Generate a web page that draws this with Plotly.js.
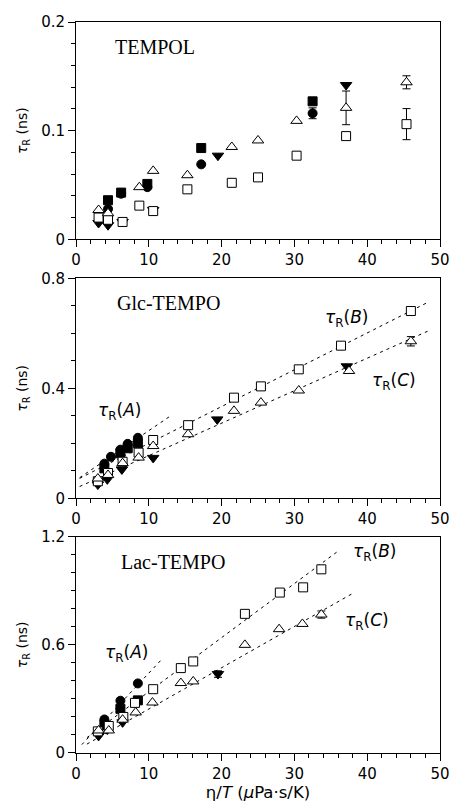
<!DOCTYPE html>
<html>
<head>
<meta charset="utf-8">
<script src="https://cdn.plot.ly/plotly-3.0.1.min.js"></script>
<style>html,body{margin:0;padding:0;background:#fff;}#chart{width:453px;height:804px;}</style>
</head>
<body>
<div id="chart"></div>
<script>
// ---------- Panel 1: TEMPOL ----------
var p1_fsq_x = [4.4, 6.2, 9.8, 17.2, 32.5];
var p1_fsq_y = [0.036, 0.043, 0.051, 0.084, 0.127];
var p1_fci_x = [4.4, 6.2, 9.8, 17.2, 32.5];
var p1_fci_y = [0.028, 0.042, 0.048, 0.069, 0.116];
var p1_fci_err = [NaN, NaN, NaN, NaN, 0.005];
var p1_ftd_x = [3.1, 4.4, 6.4, 10.6, 19.5, 37.1];
var p1_ftd_y = [0.015, 0.013, 0.016, 0.027, 0.077, 0.142];
var p1_osq_x = [3.1, 4.4, 6.4, 8.7, 10.6, 15.3, 21.4, 25.0, 30.3, 37.1, 45.4];
var p1_osq_y = [0.020, 0.018, 0.016, 0.031, 0.026, 0.046, 0.052, 0.057, 0.077, 0.095, 0.106];
var p1_osq_err = [NaN, NaN, NaN, NaN, NaN, NaN, NaN, NaN, NaN, NaN, 0.0143];
var p1_otr_x = [3.1, 4.4, 8.7, 10.6, 15.3, 21.4, 25.0, 30.3, 37.1, 45.4];
var p1_otr_y = [0.027, 0.024, 0.048, 0.063, 0.059, 0.085, 0.091, 0.109, 0.121, 0.1445];
var p1_otr_err = [NaN, NaN, NaN, NaN, NaN, NaN, NaN, NaN, 0.0155, 0.006];

// ---------- Panel 2: Glc-TEMPO ----------
var p2_fsq_x = [3.9, 6.1, 7.1, 8.5];
var p2_fsq_y = [0.109, 0.164, 0.182, 0.200];
var p2_fci_x = [3.9, 4.8, 6.1, 7.1, 8.5];
var p2_fci_y = [0.126, 0.151, 0.177, 0.198, 0.220];
var p2_ftd_x = [3.0, 4.3, 6.3, 10.6, 19.4, 37.2];
var p2_ftd_y = [0.050, 0.069, 0.105, 0.147, 0.287, 0.480];
var p2_osq_x = [3.0, 4.4, 6.4, 8.6, 10.6, 15.4, 21.7, 25.4, 30.6, 36.4, 46.0];
var p2_osq_y = [0.062, 0.092, 0.133, 0.166, 0.212, 0.266, 0.366, 0.407, 0.469, 0.555, 0.681];
var p2_osq_err = [NaN, NaN, NaN, NaN, NaN, NaN, NaN, NaN, NaN, NaN, 0.008];
var p2_otr_x = [3.0, 4.4, 6.4, 8.6, 10.6, 15.4, 21.7, 25.4, 30.6, 37.5, 46.0];
var p2_otr_y = [0.072, 0.085, 0.128, 0.148, 0.190, 0.233, 0.318, 0.348, 0.392, 0.463, 0.571];
var p2_otr_err = [NaN, NaN, NaN, NaN, NaN, NaN, NaN, NaN, NaN, NaN, 0.017];
// fits: [intercept, slope, xStart, xEnd]
var p2_fitA = [0.066, 0.0180, 0.5, 13.0];
var p2_fitB = [0.066, 0.01338, 0.5, 48.2];
var p2_fitC = [0.037, 0.01181, 0.5, 48.4];

// ---------- Panel 3: Lac-TEMPO ----------
var p3_fsq_x = [3.9, 6.1, 8.5];
var p3_fsq_y = [0.157, 0.245, 0.292];
var p3_fci_x = [3.9, 6.1, 8.5];
var p3_fci_y = [0.186, 0.290, 0.386];
var p3_ftd_x = [3.1, 4.3, 6.4, 19.5];
var p3_ftd_y = [0.095, 0.130, 0.170, 0.438];
var p3_ftd_err = [NaN, NaN, NaN, 0.018];
var p3_osq_x = [3.0, 4.5, 6.5, 8.1, 10.6, 14.4, 16.1, 23.2, 28.0, 31.2, 33.7];
var p3_osq_y = [0.120, 0.150, 0.200, 0.278, 0.354, 0.471, 0.508, 0.772, 0.890, 0.919, 1.019];
var p3_osq_err = [NaN, NaN, NaN, NaN, NaN, NaN, NaN, NaN, NaN, NaN, 0.012];
var p3_otr_x = [3.1, 4.5, 6.4, 8.2, 10.5, 14.4, 16.1, 23.2, 27.9, 31.1, 33.7];
var p3_otr_y = [0.125, 0.125, 0.185, 0.225, 0.280, 0.388, 0.397, 0.600, 0.687, 0.716, 0.768];
var p3_otr_err = [NaN, NaN, NaN, NaN, NaN, NaN, NaN, NaN, NaN, NaN, 0.020];
var p3_fitA = [0.012, 0.0431, 0.8, 11.8];
var p3_fitB = [0.040, 0.0300, 1.5, 36.1];
var p3_fitC = [0.015, 0.0229, 1.5, 38.1];

var xTicks = [0, 10, 20, 30, 40, 50];
var panelNames = ['TEMPOL', 'Glc-TEMPO', 'Lac-TEMPO'];

// ---------- build ----------
var traces = [];
function ax(n){ return n === 1 ? '' : String(n); }
function errObj(arr){
  if(!arr) return {visible:false};
  return {type:'data', array:arr, visible:true, color:'#000', thickness:1, width:4};
}
function pts(n, x, y, kind, err){
  var m;
  if(kind === 'fsq') m = {symbol:'square', size:9, color:'#000', line:{color:'#000', width:1}};
  if(kind === 'fci') m = {symbol:'circle', size:9, color:'#000', line:{color:'#000', width:1}};
  if(kind === 'ftd') m = {symbol:'triangle-down', size:10, color:'#000', line:{color:'#000', width:1}};
  if(kind === 'osq') m = {symbol:'square', size:9, color:'#fff', line:{color:'#000', width:1}};
  if(kind === 'otr') m = {symbol:'triangle-up', size:10, color:'#fff', line:{color:'#000', width:1}};
  traces.push({x:x, y:y, type:'scatter', mode:'markers', marker:m, error_y:errObj(err),
    xaxis:'x'+ax(n), yaxis:'y'+ax(n), hoverinfo:'x+y', cliponaxis:false});
}
function fit(n, f){
  var xs = [f[2], f[3]];
  var ys = xs.map(function(v){ return f[0] + f[1]*v; });
  traces.push({x:xs, y:ys, type:'scatter', mode:'lines',
    line:{color:'#000', width:1, dash:'3px,4px'}, xaxis:'x'+ax(n), yaxis:'y'+ax(n), hoverinfo:'skip'});
}

fit(2, p2_fitA); fit(2, p2_fitB); fit(2, p2_fitC);
fit(3, p3_fitA); fit(3, p3_fitB); fit(3, p3_fitC);

pts(1, p1_fci_x, p1_fci_y, 'fci', p1_fci_err);
pts(1, p1_fsq_x, p1_fsq_y, 'fsq');
pts(1, p1_ftd_x, p1_ftd_y, 'ftd');
pts(1, p1_osq_x, p1_osq_y, 'osq', p1_osq_err);
pts(1, p1_otr_x, p1_otr_y, 'otr', p1_otr_err);

pts(2, p2_fci_x, p2_fci_y, 'fci');
pts(2, p2_fsq_x, p2_fsq_y, 'fsq');
pts(2, p2_ftd_x, p2_ftd_y, 'ftd');
pts(2, p2_osq_x, p2_osq_y, 'osq', p2_osq_err);
pts(2, p2_otr_x, p2_otr_y, 'otr', p2_otr_err);

pts(3, p3_fci_x, p3_fci_y, 'fci');
pts(3, p3_fsq_x, p3_fsq_y, 'fsq');
pts(3, p3_ftd_x, p3_ftd_y, 'ftd', p3_ftd_err);
pts(3, p3_osq_x, p3_osq_y, 'osq', p3_osq_err);
pts(3, p3_otr_x, p3_otr_y, 'otr', p3_otr_err);

var tickFont = {family:'DejaVu Sans', size:15, color:'#000'};
function xaxisDef(n, withTitle){
  var a = {range:[0,50], tickvals:xTicks, ticktext:xTicks.map(String), anchor:'y'+ax(n),
    showline:true, mirror:true, linecolor:'#000', linewidth:1,
    ticks:'outside', ticklen:7, tickwidth:1, tickcolor:'#000',
    minor:{dtick:2, tick0:0, ticks:'outside', ticklen:4, tickcolor:'#000', tickwidth:1, showgrid:false},
    showgrid:false, zeroline:false, tickfont:tickFont, fixedrange:true};
  if(withTitle) a.title = {text:'η/<i>T</i> (<i>μ</i>Pa·s/K)', font:{family:'DejaVu Sans', size:16.5, color:'#000'}, standoff:4};
  return a;
}
function yaxisDef(dom, rng, dt, mdt){
  return {domain:dom, range:rng, dtick:dt, tick0:0,
    showline:true, mirror:true, linecolor:'#000', linewidth:1,
    ticks:'outside', ticklen:7, tickwidth:1, tickcolor:'#000',
    minor:{dtick:mdt, tick0:0, ticks:'outside', ticklen:4, tickcolor:'#000', tickwidth:1, showgrid:false},
    showgrid:false, zeroline:false, tickfont:tickFont, fixedrange:true,
    title:{text:'<i>τ</i><sub>R</sub> (ns)', font:{family:'DejaVu Sans', size:14, color:'#000'}, standoff:10}};
}

var serif = {family:'Liberation Serif', size:20, color:'#000'};
var lab = {family:'DejaVu Sans', size:17, color:'#000'};
function ann(n, x, y, text, font, xanchor){
  return {xref:'x'+ax(n), yref:'y'+ax(n), x:x, y:y, text:text, showarrow:false, font:font, xanchor:xanchor||'center', yanchor:'middle'};
}
var annotations = [
  ann(1, 5.1, 0.177, panelNames[0], serif, 'left'),
  ann(2, 5.3, 0.709, panelNames[1], serif, 'left'),
  ann(3, 5.85, 1.061, panelNames[2], serif, 'left'),
  ann(2, 6.0, 0.317, '<i>τ</i><sub>R</sub>(<i>A</i>)', lab),
  ann(2, 37.1, 0.652, '<i>τ</i><sub>R</sub>(<i>B</i>)', lab),
  ann(2, 43.7, 0.424, '<i>τ</i><sub>R</sub>(<i>C</i>)', lab),
  ann(3, 6.9, 0.554, '<i>τ</i><sub>R</sub>(<i>A</i>)', lab),
  ann(3, 41.0, 1.112, '<i>τ</i><sub>R</sub>(<i>B</i>)', lab),
  ann(3, 40.0, 0.729, '<i>τ</i><sub>R</sub>(<i>C</i>)', lab)
];

var layout = {
  width:453, height:804, margin:{l:76, r:13, t:22, b:51},
  paper_bgcolor:'#fff', plot_bgcolor:'#fff', showlegend:false,
  font:{family:'DejaVu Sans', color:'#000'},
  xaxis: xaxisDef(1, false),
  xaxis2: xaxisDef(2, false),
  xaxis3: xaxisDef(3, true),
  yaxis: yaxisDef([0.7027, 1], [0, 0.2], 0.1, 0.02),
  yaxis2: yaxisDef([0.3484, 0.6494], [0, 0.8], 0.4, 0.1),
  yaxis3: yaxisDef([0, 0.2959], [0, 1.2], 0.6, 0.1),
  annotations: annotations
};

Plotly.newPlot('chart', traces, layout, {displayModeBar:false, staticPlot:true});
</script>
</body>
</html>
